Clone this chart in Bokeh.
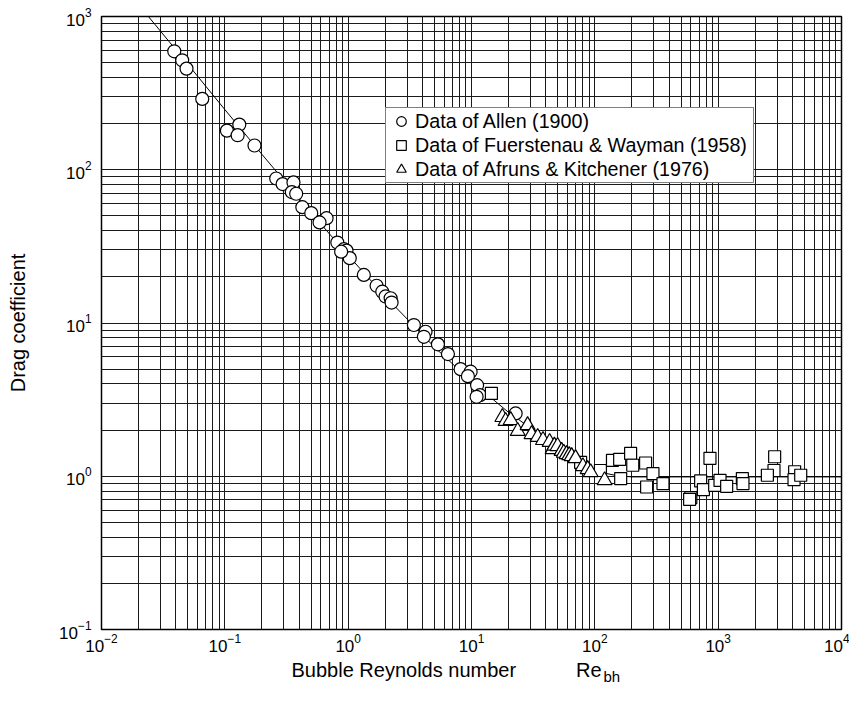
from bokeh.plotting import figure
from bokeh.models import FixedTicker, Legend, LegendItem, Title, LogTickFormatter
from bokeh.embed import file_html
from bokeh.resources import INLINE

# ---- data ----
allen_re = [0.0389, 0.0451, 0.0489, 0.0656, 0.104, 0.131, 0.127, 0.174, 0.261, 0.294,
            0.360, 0.349, 0.379, 0.425, 0.502, 0.668, 0.586, 0.817, 0.923, 0.970,
            1.03, 0.877, 1.34, 1.70, 1.89, 2.01, 2.21, 2.25, 3.41, 4.24,
            4.11, 5.34, 6.44, 8.16, 9.84, 9.35, 11.1, 11.7, 11.0, 22.8]
allen_cd = [593, 518, 457, 290, 180, 197, 168, 144, 87.7, 80.6,
            82.6, 71.5, 69.7, 57.0, 52.1, 48.3, 45.3, 33.5, 30.3, 29.7,
            26.5, 29.2, 20.6, 17.5, 16.0, 14.9, 14.5, 13.6, 9.70, 8.77,
            8.13, 7.26, 6.27, 5.00, 4.81, 4.50, 3.93, 3.38, 3.30, 2.57]

fw_re = [14.5, 76.7, 111, 139, 159, 195, 203, 162, 258, 296, 263, 357,
         858, 721, 759, 600, 587, 937, 1035, 1172, 1571, 1589,
         2871, 2836, 2506, 4170, 4121, 4670]
fw_cd = [3.47, 1.23, 1.09, 1.27, 1.29, 1.41, 1.18, 0.966, 1.22, 1.04, 0.851, 0.896,
         1.31, 0.932, 0.819, 0.725, 0.707, 0.873, 0.94, 0.86, 0.966, 0.896,
         1.34, 1.09, 1.015, 1.07, 0.95, 1.015]

ak_re = [17.8, 18.9, 20.8, 23.7, 28.5, 30.7, 34.4, 38.0, 43.0, 45.5, 47.0, 49.9,
         53.8, 56.0, 59.0, 62.0, 64.9, 69.8, 80.0, 87.5, 92.5, 120]
ak_cd = [2.43, 2.29, 2.32, 1.97, 2.15, 1.88, 1.80, 1.72, 1.67, 1.50, 1.58, 1.57,
         1.46, 1.42, 1.39, 1.37, 1.35, 1.31, 1.16, 1.11, 1.06, 0.94]

curve_re = [0.024, 0.05, 0.1, 0.2, 0.5, 1, 2, 5, 10, 20, 50, 80, 100, 150, 200, 500, 1000, 10000]
curve_cd = [1000, 489, 247, 126, 52.5, 27.6, 14.9, 6.97, 4.15, 2.61, 1.54, 1.2, 1.08, 1.01, 0.99, 0.99, 0.99, 0.99]

x_major = [1e-2, 1e-1, 1e0, 1e1, 1e2, 1e3, 1e4]
y_major = [1e-1, 1e0, 1e1, 1e2, 1e3]

FONT = "Liberation Sans"

p = figure(x_axis_type="log", y_axis_type="log",
           x_range=(1e-2, 1e4), y_range=(1e-1, 1e3),
           frame_width=740, frame_height=613,
           min_border_left=101, min_border_right=8, min_border_top=16, min_border_bottom=68,
           output_backend="svg", toolbar_location=None,
           background_fill_color="white", border_fill_color="white")

p.outline_line_color = "black"
p.outline_line_width = 1.5

def minors(majors):
    out = []
    for m in majors[:-1]:
        out += [m * k for k in range(2, 10)]
    return out

xt = FixedTicker(ticks=x_major, minor_ticks=minors(x_major))
yt = FixedTicker(ticks=y_major, minor_ticks=minors(y_major))
p.xaxis.ticker = xt
p.yaxis.ticker = yt
p.xgrid.ticker = xt
p.ygrid.ticker = yt
p.xaxis.formatter = LogTickFormatter()
p.yaxis.formatter = LogTickFormatter()

for g in (p.xgrid, p.ygrid):
    g.grid_line_color = "#1a1a1a"
    g.grid_line_width = 1
    g.minor_grid_line_color = "#1a1a1a"
    g.minor_grid_line_width = 1

for ax in (p.xaxis, p.yaxis):
    ax.axis_line_color = None
    ax.major_tick_line_color = None
    ax.minor_tick_line_color = None
    ax.major_label_text_font = FONT
    ax.major_label_text_font_size = "17px"
    ax.major_label_text_color = "black"
p.xaxis.major_label_standoff = -2
p.yaxis.major_label_standoff = 4

p.yaxis.axis_label = "Drag coefficient"
p.yaxis.axis_label_text_font = FONT
p.yaxis.axis_label_text_font_size = "20px"
p.yaxis.axis_label_text_font_style = "normal"
p.yaxis.axis_label_text_color = "black"
p.yaxis.axis_label_standoff = 27

p.line(curve_re, curve_cd, line_color="black", line_width=1)

r1 = p.scatter(allen_re, allen_cd, marker="circle", size=13,
               fill_color="white", line_color="black", line_width=1.2)
r2 = p.scatter(fw_re, fw_cd, marker="square", size=12,
               fill_color="white", line_color="black", line_width=1.2)
r3 = p.scatter(ak_re, ak_cd, marker="triangle", size=15,
               fill_color="white", line_color="black", line_width=1.2)

legend = Legend(items=[
    LegendItem(label="Data of Allen (1900)", renderers=[r1]),
    LegendItem(label="Data of Fuerstenau & Wayman (1958)", renderers=[r2]),
    LegendItem(label="Data of Afruns & Kitchener (1976)", renderers=[r3]),
], location=(284, 446))
legend.label_text_font = FONT
legend.label_text_font_size = "19.7px"
legend.label_text_color = "black"
legend.glyph_width = 28
legend.glyph_height = 24
legend.label_height = 24
legend.label_width = 337
legend.spacing = 0
legend.padding = 1
legend.label_standoff = 0
legend.border_line_color = "black"
legend.border_line_width = 1
legend.background_fill_color = "white"
legend.background_fill_alpha = 1
legend.margin = 0
p.add_layout(legend)

# x-axis title: main text and the subscript, as titles in the panel below
t_main = Title(text="Bubble Reynolds number\u2003\u2003\u2003Re", align="left", offset=190,
               vertical_align="bottom", standoff=4,
               text_font=FONT, text_font_size="20px", text_font_style="normal",
               text_color="black")
t_sub = Title(text="bh", align="left", offset=502,
              vertical_align="top", standoff=-30,
              text_font=FONT, text_font_size="15px", text_font_style="normal",
              text_color="black")
p.add_layout(t_main, "below")
p.add_layout(t_sub, "below")

open("out.html", "w").write(file_html(p, INLINE))
